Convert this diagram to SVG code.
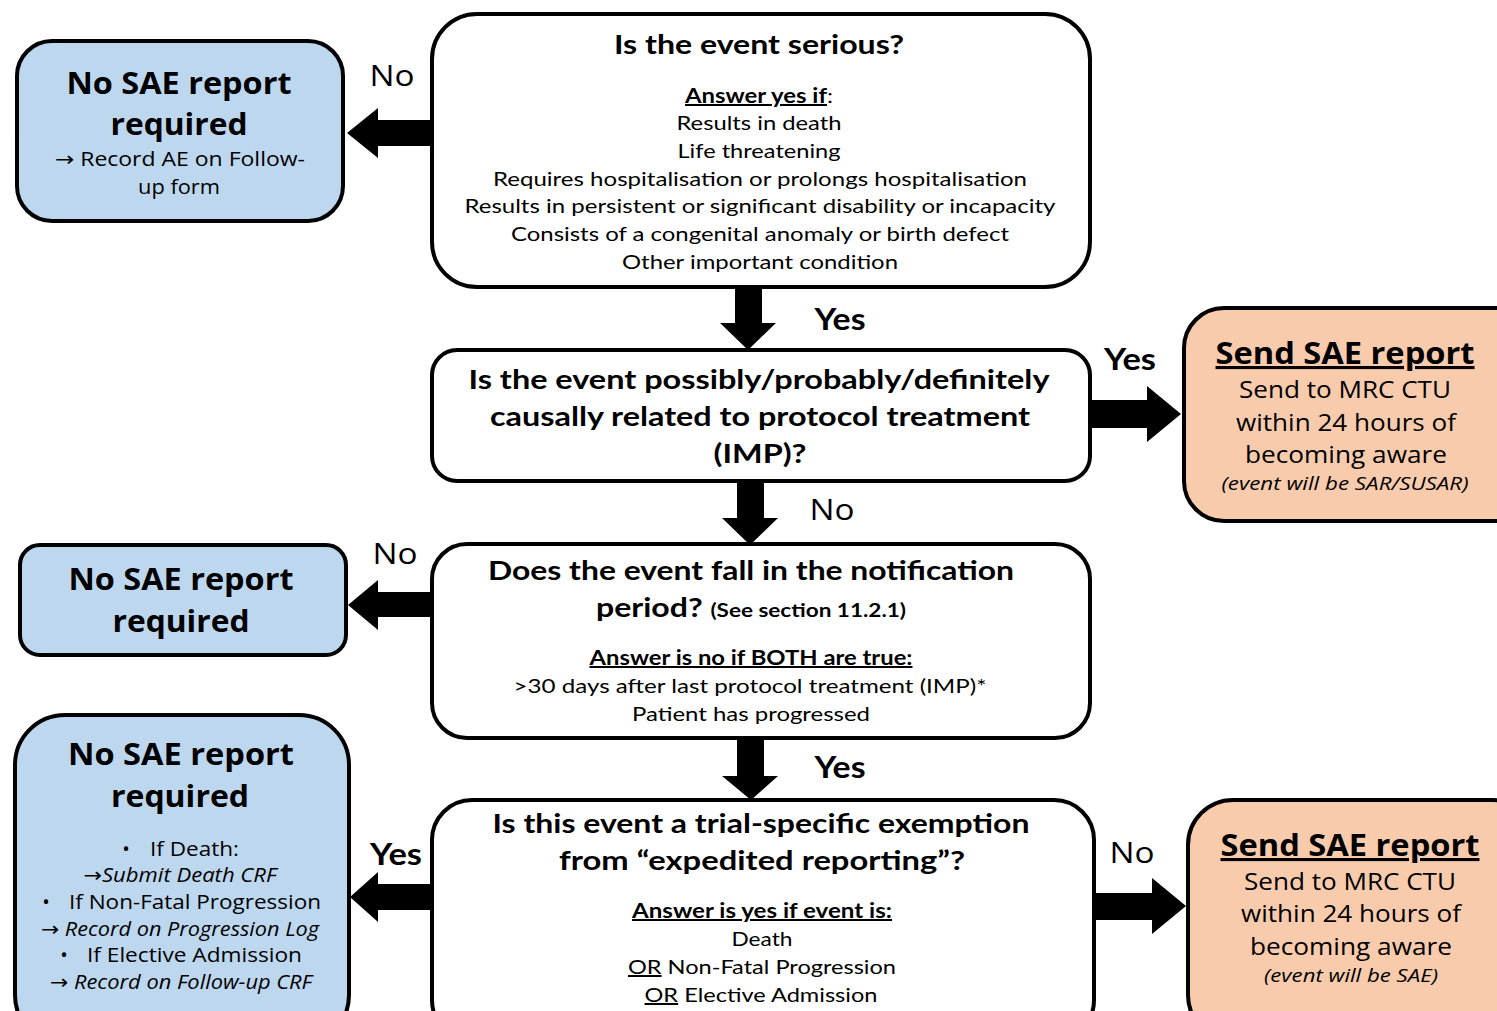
<svg xmlns="http://www.w3.org/2000/svg" width="1497" height="1011" viewBox="0 0 1497 1011">
<style>
.q{fill:#fff;stroke:#000;stroke-width:4}
.b{fill:#bdd7ee;stroke:#000;stroke-width:4}
.p{fill:#f8cbad;stroke:#000;stroke-width:4}
text{fill:#000;text-anchor:middle}
.c{font-family:Lato,"Liberation Sans",sans-serif}
.s{font-family:"Open Sans","Noto Sans",sans-serif}
.h{font-size:27px;font-weight:bold}
.t{font-size:20px}
.u{text-decoration:underline}
.sh{font-size:31px;font-weight:bold}
.st{font-size:24px}
.sm{font-size:20px}
.it{font-style:italic}
.lbl{font-size:30px}
.ar{font-family:"DejaVu Sans",sans-serif;font-style:normal}
.l{text-anchor:start}
</style>
<g id="connectors" fill="#000">
<polygon points="432,120 378,120 378,108 347,133 378,158 378,146 432,146"/>
<polygon points="735,287 762,287 762,323 776,323 748,350 720,323 735,323"/>
<polygon points="1090,400 1147,400 1147,386 1181,414 1147,442 1147,428 1090,428"/>
<polygon points="737,481 764,481 764,518 778,518 750,545 722,518 737,518"/>
<polygon points="432,592 378,592 378,580 348,605 378,630 378,617 432,617"/>
<polygon points="737,738 764,738 764,776 778,776 751,800 722,776 737,776"/>
<polygon points="432,884 378,884 378,872 350,897 378,922 378,910 432,910"/>
<polygon points="1094,893 1152,893 1152,878 1186,906 1152,934 1152,920 1094,920"/>
<text class="s lbl" x="392" y="86" textLength="45" lengthAdjust="spacingAndGlyphs">No</text>
<text class="c lbl" x="840" y="330" font-weight="bold" textLength="51" lengthAdjust="spacingAndGlyphs">Yes</text>
<text class="c lbl" x="1130" y="370" font-weight="bold" textLength="52" lengthAdjust="spacingAndGlyphs">Yes</text>
<text class="s lbl" x="832" y="520" textLength="45" lengthAdjust="spacingAndGlyphs">No</text>
<text class="s lbl" x="395" y="564" textLength="45" lengthAdjust="spacingAndGlyphs">No</text>
<text class="c lbl" x="840" y="778" font-weight="bold" textLength="51" lengthAdjust="spacingAndGlyphs">Yes</text>
<text class="c lbl" x="396" y="865" font-weight="bold" textLength="52" lengthAdjust="spacingAndGlyphs">Yes</text>
<text class="s lbl" x="1132" y="863" textLength="45" lengthAdjust="spacingAndGlyphs">No</text>
</g>
<g id="q1">
<rect class="q" x="432" y="14" width="658" height="273" rx="45"/>
<text class="c h" x="759" y="54" textLength="290" lengthAdjust="spacingAndGlyphs">Is the event serious?</text>
<text class="c t" x="759" y="103" textLength="148" lengthAdjust="spacingAndGlyphs"><tspan class="u" font-weight="bold">Answer yes if</tspan>:</text>
<text class="c t" x="759" y="130" textLength="165" lengthAdjust="spacingAndGlyphs">Results in death</text>
<text class="c t" x="759" y="158" textLength="163" lengthAdjust="spacingAndGlyphs">Life threatening</text>
<text class="c t" x="760" y="186" textLength="534" lengthAdjust="spacingAndGlyphs">Requires hospitalisation or prolongs hospitalisation</text>
<text class="c t" x="760" y="213" textLength="591" lengthAdjust="spacingAndGlyphs">Results in persistent or significant disability or incapacity</text>
<text class="c t" x="760" y="241" textLength="498" lengthAdjust="spacingAndGlyphs">Consists of a congenital anomaly or birth defect</text>
<text class="c t" x="760" y="269" textLength="276" lengthAdjust="spacingAndGlyphs">Other important condition</text>
</g>
<g id="no1">
<rect class="b" x="17" y="41" width="326" height="180" rx="35"/>
<text class="s sh" x="179" y="94" textLength="225" lengthAdjust="spacingAndGlyphs">No SAE report</text>
<text class="s sh" x="179" y="135" textLength="137" lengthAdjust="spacingAndGlyphs">required</text>
<text class="s sm" x="180" y="166" textLength="250" lengthAdjust="spacingAndGlyphs"><tspan class="ar">→</tspan> Record AE on Follow-</text>
<text class="s sm" x="179" y="194" textLength="82" lengthAdjust="spacingAndGlyphs">up form</text>
</g>
<g id="q2">
<rect class="q" x="432" y="350" width="658" height="131" rx="25"/>
<text class="c h" x="759" y="389" textLength="581" lengthAdjust="spacingAndGlyphs">Is the event possibly/probably/definitely</text>
<text class="c h" x="760" y="426" textLength="540" lengthAdjust="spacingAndGlyphs">causally related to protocol treatment</text>
<text class="c h" x="760" y="463" textLength="93" lengthAdjust="spacingAndGlyphs">(IMP)?</text>
</g>
<g id="send1">
<rect class="p" x="1184" y="308" width="350" height="213" rx="40"/>
<text class="s sh u" x="1345" y="364" textLength="259" lengthAdjust="spacingAndGlyphs">Send SAE report</text>
<text class="s st" x="1345" y="398" textLength="212" lengthAdjust="spacingAndGlyphs">Send to MRC CTU</text>
<text class="s st" x="1346" y="431" textLength="220" lengthAdjust="spacingAndGlyphs">within 24 hours of</text>
<text class="s st" x="1346" y="463" textLength="202" lengthAdjust="spacingAndGlyphs">becoming aware</text>
<text class="s it" x="1345" y="490" font-size="19" textLength="247" lengthAdjust="spacingAndGlyphs">(event will be SAR/SUSAR)</text>
</g>
<g id="q3">
<rect class="q" x="432" y="544" width="658" height="194" rx="35"/>
<text class="c h" x="751" y="580" textLength="526" lengthAdjust="spacingAndGlyphs">Does the event fall in the notification</text>
<text class="c h" x="751" y="617" textLength="310" lengthAdjust="spacingAndGlyphs">period? <tspan font-size="19">(See section 11.2.1)</tspan></text>
<text class="c t u" x="751" y="665" font-weight="bold" textLength="323" lengthAdjust="spacingAndGlyphs">Answer is no if BOTH are true:</text>
<text class="c t" x="750" y="693" textLength="473" lengthAdjust="spacingAndGlyphs">&gt;30 days after last protocol treatment (IMP)*</text>
<text class="c t" x="751" y="721" textLength="238" lengthAdjust="spacingAndGlyphs">Patient has progressed</text>
</g>
<g id="no2">
<rect class="b" x="20" y="545" width="326" height="110" rx="20"/>
<text class="s sh" x="181" y="590" textLength="225" lengthAdjust="spacingAndGlyphs">No SAE report</text>
<text class="s sh" x="181" y="632" textLength="137" lengthAdjust="spacingAndGlyphs">required</text>
</g>
<g id="q4">
<rect class="q" x="432" y="800" width="662" height="240" rx="40"/>
<text class="c h" x="761" y="833" textLength="537" lengthAdjust="spacingAndGlyphs">Is this event a trial-specific exemption</text>
<text class="c h" x="762" y="870" textLength="406" lengthAdjust="spacingAndGlyphs">from “expedited reporting”?</text>
<text class="c t u" x="762" y="918" font-weight="bold" textLength="260" lengthAdjust="spacingAndGlyphs">Answer is yes if event is:</text>
<text class="c t" x="762" y="946" textLength="61" lengthAdjust="spacingAndGlyphs">Death</text>
<text class="c t" x="762" y="974" textLength="268" lengthAdjust="spacingAndGlyphs"><tspan class="u">OR</tspan> Non-Fatal Progression</text>
<text class="c t" x="761" y="1002" textLength="233" lengthAdjust="spacingAndGlyphs"><tspan class="u">OR</tspan> Elective Admission</text>
</g>
<g id="no3">
<rect class="b" x="15" y="715" width="334" height="330" rx="50"/>
<text class="s sh" x="181" y="765" textLength="226" lengthAdjust="spacingAndGlyphs">No SAE report</text>
<text class="s sh" x="180" y="807" textLength="138" lengthAdjust="spacingAndGlyphs">required</text>
<text class="s sm" x="126" y="856">•</text>
<text class="s sm l" x="150" y="856" textLength="89" lengthAdjust="spacingAndGlyphs">If Death:</text>
<text class="s sm it" x="180" y="882" textLength="193" lengthAdjust="spacingAndGlyphs"><tspan class="ar">→</tspan>Submit Death CRF</text>
<text class="s sm" x="46" y="909">•</text>
<text class="s sm l" x="69" y="909" textLength="252" lengthAdjust="spacingAndGlyphs">If Non-Fatal Progression</text>
<text class="s sm it" x="180" y="936" textLength="278" lengthAdjust="spacingAndGlyphs"><tspan class="ar">→</tspan> Record on Progression Log</text>
<text class="s sm" x="64" y="962">•</text>
<text class="s sm l" x="87" y="962" textLength="215" lengthAdjust="spacingAndGlyphs">If Elective Admission</text>
<text class="s sm it" x="181" y="989" textLength="262" lengthAdjust="spacingAndGlyphs"><tspan class="ar">→</tspan> Record on Follow-up CRF</text>
</g>
<g id="send2">
<rect class="p" x="1188" y="800" width="350" height="240" rx="45"/>
<text class="s sh u" x="1350" y="856" textLength="259" lengthAdjust="spacingAndGlyphs">Send SAE report</text>
<text class="s st" x="1350" y="890" textLength="212" lengthAdjust="spacingAndGlyphs">Send to MRC CTU</text>
<text class="s st" x="1351" y="922" textLength="220" lengthAdjust="spacingAndGlyphs">within 24 hours of</text>
<text class="s st" x="1351" y="955" textLength="202" lengthAdjust="spacingAndGlyphs">becoming aware</text>
<text class="s it" x="1351" y="982" font-size="19" textLength="174" lengthAdjust="spacingAndGlyphs">(event will be SAE)</text>
</g>
</svg>
